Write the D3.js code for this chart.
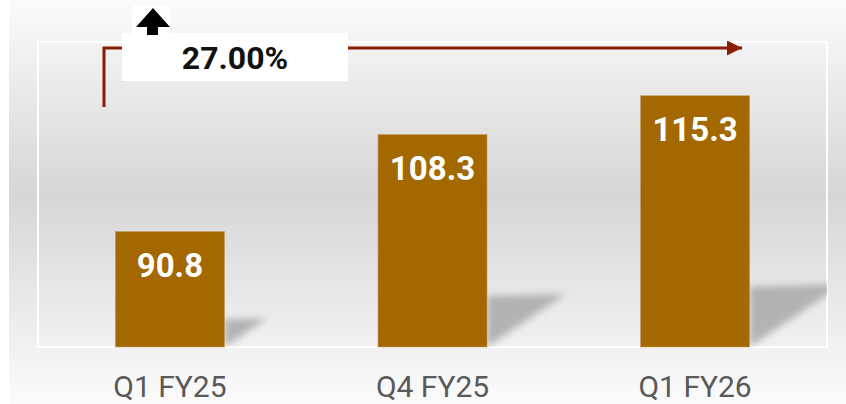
<!DOCTYPE html>
<html>
<head>
<meta charset="utf-8">
<script src="https://cdn.jsdelivr.net/npm/d3@7"></script>
<style>
    body { margin: 0; background: #fff; }
    text { font-family: Roboto, "Noto Sans", sans-serif; }
</style>
</head>
<body>
<div id="graph1"></div>
<script>
// Chart data
const categories = ["Q1 FY25", "Q4 FY25", "Q1 FY26"];
const values = [90.8, 108.3, 115.3];
const growthLabel = "27.00%";

const width = 846, height = 404;
const plot = { left: 38, right: 827, top: 42, bottom: 347 };

let svg = d3.select("#graph1")
    .append("svg")
    .attr("width", width)
    .attr("height", height);

let defs = svg.append("defs");

// grey band background (white -> grey -> white)
let grad = defs.append("linearGradient")
    .attr("id", "bg")
    .attr("x1", 0).attr("y1", 0).attr("x2", 0).attr("y2", 1);
grad.append("stop").attr("offset", "0%").attr("stop-color", "#fbfbfb");
grad.append("stop").attr("offset", "48%").attr("stop-color", "#d6d6d6");
grad.append("stop").attr("offset", "100%").attr("stop-color", "#fbfbfb");

defs.append("filter")
    .attr("id", "blur")
    .attr("x", "-20%").attr("y", "-20%").attr("width", "140%").attr("height", "140%")
    .append("feGaussianBlur")
    .attr("stdDeviation", 3.5);

defs.append("clipPath")
    .attr("id", "plotClip")
    .append("rect")
    .attr("x", plot.left).attr("y", plot.top)
    .attr("width", plot.right - plot.left)
    .attr("height", plot.bottom - plot.top);

defs.append("marker")
    .attr("id", "head")
    .attr("viewBox", "0 0 10 10")
    .attr("refX", 10).attr("refY", 5)
    .attr("markerWidth", 5.3).attr("markerHeight", 5)
    .attr("markerUnits", "strokeWidth")
    .attr("orient", "auto")
    .append("path")
    .attr("d", "M0,0 L10,5 L0,10 Z")
    .attr("fill", "#8c1d05");

svg.append("rect")
    .attr("x", 9).attr("y", 0)
    .attr("width", width - 9).attr("height", height)
    .attr("fill", "url(#bg)");

// plot frame
svg.append("rect")
    .attr("x", plot.left).attr("y", plot.top)
    .attr("width", plot.right - plot.left)
    .attr("height", plot.bottom - plot.top)
    .attr("fill", "none")
    .attr("stroke", "#ffffff")
    .attr("stroke-width", 2);

// scales
let x = d3.scaleBand()
    .domain(categories)
    .range([plot.left, plot.right])
    .paddingInner(0.585)
    .paddingOuter(0.295);

let y = d3.scaleLinear()
    .domain([70, 125])
    .range([plot.bottom, plot.top]);

let data = categories.map((c, i) => ({ cat: c, val: values[i] }));

// soft shadows behind the bars
svg.append("g")
    .attr("clip-path", "url(#plotClip)")
    .selectAll("path")
    .data(data)
    .enter()
    .append("path")
    .attr("d", function (d) {
        let r = x(d.cat) + x.bandwidth();
        let h = y(70) - y(d.val);
        let b = y(70);
        return `M${r},${b} L${r},${b - 0.24 * h} L${r + 0.37 * h},${b - 0.25 * h} Z`;
    })
    .attr("fill", "#a9a9a9")
    .attr("opacity", 0.85)
    .attr("filter", "url(#blur)");

// bars
svg.selectAll(".bar")
    .data(data)
    .enter()
    .append("rect")
    .attr("class", "bar")
    .attr("x", d => x(d.cat))
    .attr("y", d => y(d.val))
    .attr("width", x.bandwidth())
    .attr("height", d => y(70) - y(d.val))
    .attr("fill", "#a36800")
    .attr("stroke", "#c2955a")
    .attr("stroke-width", 0.6);

// value labels inside bars
svg.selectAll(".val")
    .data(data)
    .enter()
    .append("text")
    .attr("class", "val")
    .attr("x", d => x(d.cat) + x.bandwidth() / 2)
    .attr("y", d => y(d.val) + 45)
    .attr("text-anchor", "middle")
    .attr("fill", "#ffffff")
    .style("font-size", "33px")
    .style("font-weight", "bold")
    .text(d => d.val.toFixed(1));

// category labels
svg.append("g")
    .attr("transform", `translate(0, ${plot.bottom})`)
    .call(d3.axisBottom(x).tickSize(0).tickPadding(29))
    .call(g => g.select(".domain").remove())
    .selectAll("text")
    .attr("fill", "#595959")
    .style("font-size", "30px");

// growth arrow from first to last bar
let x0 = 104, yTop = 48, xEnd = 742;
svg.append("path")
    .attr("d", `M${x0},107 L${x0},${yTop} L${xEnd},${yTop}`)
    .attr("fill", "none")
    .attr("stroke", "#8c1d05")
    .attr("stroke-width", 3)
    .attr("marker-end", "url(#head)");

svg.append("rect")
    .attr("x", 122).attr("y", 33)
    .attr("width", 226).attr("height", 48)
    .attr("fill", "#ffffff");

svg.append("text")
    .attr("x", 235).attr("y", 69)
    .attr("text-anchor", "middle")
    .attr("fill", "#111")
    .style("font-size", "32px")
    .style("font-weight", "bold")
    .text(growthLabel);

// small up arrow
svg.append("rect")
    .attr("x", 132).attr("y", 6)
    .attr("width", 38).attr("height", 28)
    .attr("fill", "#ffffff");

svg.append("path")
    .attr("d", "M153,8 L170,27 L158,27 L158,35 L147,35 L147,27 L136,27 Z")
    .attr("fill", "#000");
</script>
</body>
</html>
